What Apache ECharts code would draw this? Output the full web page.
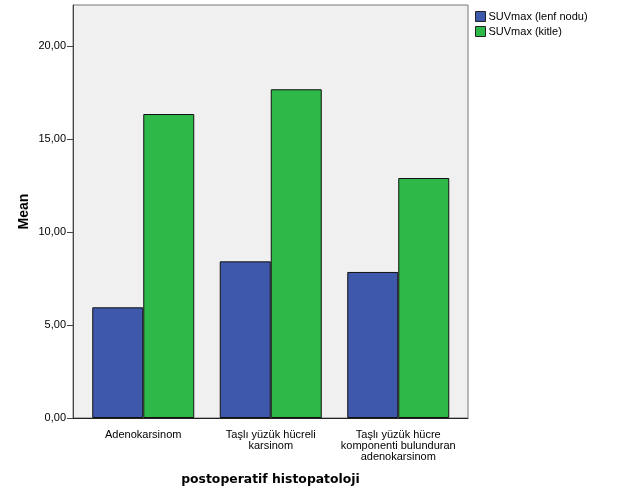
<!DOCTYPE html>
<html>
<head>
<meta charset="utf-8">
<script src="https://cdn.jsdelivr.net/npm/echarts@6/dist/echarts.min.js"></script>
<style>html,body{margin:0;padding:0;background:#fff}#c{width:626px;height:501px}</style>
</head>
<body>
<div id="c"></div>
<script>
var categories = ['Adenokarsinom', 'Taşlı yüzük hücreli\nkarsinom', 'Taşlı yüzük hücre\nkomponenti bulunduran\nadenokarsinom'];
var seriesNames = ['SUVmax (lenf nodu)', 'SUVmax (kitle)'];
var lenfNodu = [5.95, 8.42, 7.85];
var kitle = [16.34, 17.67, 12.90];
var yTicks = [0, 5, 10, 15, 20];
var yMax = 22.2;

var chart = echarts.init(document.getElementById('c'), null, {renderer: 'canvas'});
var fmt = function (v) { return v.toFixed(2).replace('.', ','); };
var font = 'Liberation Sans, Arial, sans-serif';
chart.setOption({
  animation: false,
  textStyle: {fontFamily: font},
  legend: {
    orient: 'vertical', left: 470, top: 6, itemWidth: 10, itemHeight: 10, itemGap: 4, icon: 'rect',
    itemStyle: {borderWidth: 1, borderColor: '#222'},
    textStyle: {fontSize: 11, color: '#000', fontFamily: font, padding: [0, 0, 0, -2]},
    data: seriesNames
  },
  grid: [
    {left: 73, right: 158, top: 5, bottom: 83, show: true, backgroundColor: '#f0f0f0', borderColor: '#777', borderWidth: 1},
    {left: 79.5, right: 164, top: 5, bottom: 83}
  ],
  xAxis: [
    {type: 'category', gridIndex: 0, data: [''], axisLine: {lineStyle: {color: '#222'}}, axisTick: {show: false}, axisLabel: {show: false},
     name: 'postoperatif histopatoloji', nameLocation: 'middle', nameGap: 56,
     nameTextStyle: {fontFamily: 'DejaVu Sans', fontWeight: 'bold', fontSize: 12.4, color: '#000'}},
    {type: 'category', gridIndex: 1, data: categories, axisLine: {show: false},
     axisTick: {alignWithLabel: true, length: 5, lineStyle: {color: '#222'}},
     axisLabel: {fontSize: 11, lineHeight: 11, color: '#000', margin: 11, interval: 0, fontFamily: font}}
  ],
  yAxis: [
    {type: 'value', gridIndex: 0, min: 0, max: yMax, interval: 5,
     axisLine: {show: true, lineStyle: {color: '#444'}},
     axisTick: {show: true, inside: false, length: 6, lineStyle: {color: '#444'}, customValues: yTicks},
     axisLabel: {fontSize: 11, color: '#000', margin: 7, formatter: fmt, customValues: yTicks, fontFamily: font},
     splitLine: {show: false},
     name: 'Mean', nameLocation: 'middle', nameGap: 42, nameMoveOverlap: false,
     nameTextStyle: {fontFamily: 'Liberation Sans', fontWeight: 'bold', fontSize: 14, color: '#000'}},
    {type: 'value', gridIndex: 1, min: 0, max: yMax, show: false, splitLine: {show: false}}
  ],
  series: [
    {name: seriesNames[0], type: 'bar', xAxisIndex: 1, yAxisIndex: 1, data: lenfNodu, barGap: '0%', barCategoryGap: '20%',
     itemStyle: {color: '#3e58ac', borderColor: '#111', borderWidth: 1}},
    {name: seriesNames[1], type: 'bar', xAxisIndex: 1, yAxisIndex: 1, data: kitle, barGap: '0%', barCategoryGap: '20%',
     itemStyle: {color: '#2eb848', borderColor: '#111', borderWidth: 1}}
  ]
});
</script>
</body>
</html>
